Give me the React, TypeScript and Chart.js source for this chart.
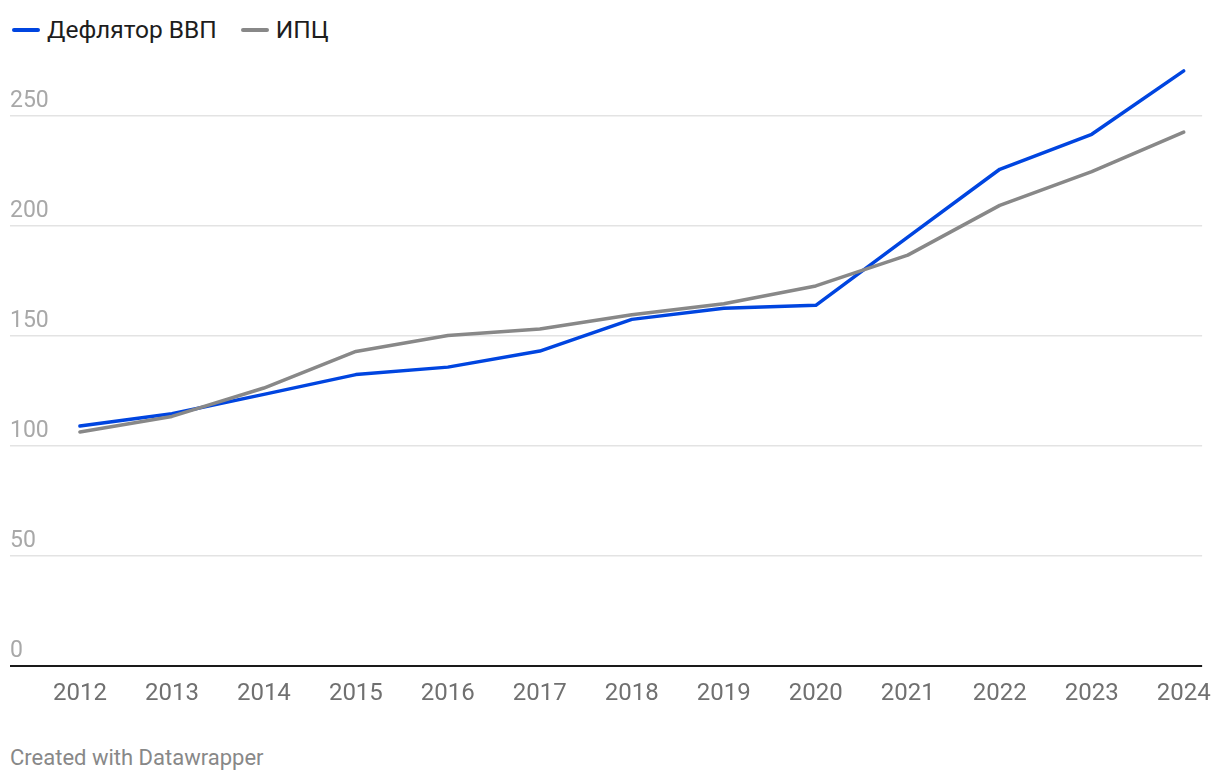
import React, { useEffect, useRef } from "react";
import { Chart, registerables } from "chart.js";

Chart.register(...registerables);

const years = [2012, 2013, 2014, 2015, 2016, 2017, 2018, 2019, 2020, 2021, 2022, 2023, 2024];
const deflator = [109.1, 114.7, 123.5, 132.5, 135.9, 143.2, 157.6, 162.7, 164.0, 195.0, 225.8, 241.7, 270.5];
const cpi = [106.4, 113.5, 126.4, 143.0, 150.3, 153.2, 159.7, 164.7, 172.8, 186.8, 209.4, 224.7, 242.7];
const yTicks = [0, 50, 100, 150, 200, 250];
const seriesNames = ["Дефлятор ВВП", "ИПЦ"];
const colors = ["#0045e0", "#888888"];

const FONT = "Roboto, 'Noto Sans', sans-serif";

export default function App() {
  const ref = useRef<HTMLCanvasElement | null>(null);

  useEffect(() => {
    if (!ref.current) return;
    const chart = new Chart(ref.current, {
      type: "line",
      data: {
        datasets: [
          {
            label: seriesNames[0],
            data: years.map((y, i) => ({ x: y, y: deflator[i] })),
            borderColor: colors[0],
            backgroundColor: colors[0],
            borderWidth: 3.5,
            pointRadius: 0,
            borderCapStyle: "round",
            borderJoinStyle: "round",
            tension: 0,
          },
          {
            label: seriesNames[1],
            data: years.map((y, i) => ({ x: y, y: cpi[i] })),
            borderColor: colors[1],
            backgroundColor: colors[1],
            borderWidth: 3.5,
            pointRadius: 0,
            borderCapStyle: "round",
            borderJoinStyle: "round",
            tension: 0,
          },
        ].reverse(),
      },
      options: {
        animation: false,
        responsive: false,
        maintainAspectRatio: false,
        layout: { padding: { left: 10, right: 19, top: 50, bottom: 14 } },
        plugins: {
          legend: { display: false },
          tooltip: { enabled: false },
        },
        scales: {
          x: {
            type: "linear",
            min: 2011.24,
            max: 2024.2,
            afterBuildTicks: (scale: any) => {
              scale.ticks = years.map((v) => ({ value: v }));
            },
            grid: { display: false, drawTicks: false },
            border: { display: false },
            ticks: {
              autoSkip: false,
              maxRotation: 0,
              padding: 13,
              color: "#707070",
              font: { family: FONT, size: 24 },
              callback: (v: any) => String(v),
            },
          },
          y: {
            min: 0,
            max: 280,
            afterBuildTicks: (scale: any) => {
              scale.ticks = yTicks.map((v) => ({ value: v }));
            },
            border: { display: false },
            grid: {
              drawTicks: false,
              color: (ctx: any) => (ctx.tick && ctx.tick.value === 0 ? "#1a1a1a" : "#e3e3e3"),
              lineWidth: (ctx: any) => (ctx.tick && ctx.tick.value === 0 ? 2 : 1.5),
            },
            ticks: {
              mirror: true,
              padding: 0,
              labelOffset: -15,
              color: "#a8a8a8",
              font: { family: FONT, size: 23 },
              callback: (v: any) => String(v),
            },
          },
        },
      },
    } as any);
    return () => chart.destroy();
  }, []);

  return (
    <div style={{ position: "fixed", left: 0, top: 0, width: 1220, height: 782, background: "#fff", fontFamily: FONT, overflow: "hidden" }}>
      <div style={{ position: "absolute", left: 12, top: 15, display: "flex", alignItems: "center", fontSize: 24.5, color: "#1d1d1d", lineHeight: "30px" }}>
        {seriesNames.map((n, i) => (
          <div key={n} style={{ display: "flex", alignItems: "center", marginRight: 24 }}>
            <span style={{ display: "inline-block", width: 28, height: 4, borderRadius: 2, background: colors[i], marginRight: 7 }} />
            <span>{n}</span>
          </div>
        ))}
      </div>
      <canvas ref={ref} width={1224} height={735} style={{ position: "absolute", left: 0, top: 0, width: 1224, height: 735 }} />
      <div style={{ position: "absolute", left: 10, top: 744, fontSize: 22, color: "#888", lineHeight: "28px" }}>Created with Datawrapper</div>
    </div>
  );
}
